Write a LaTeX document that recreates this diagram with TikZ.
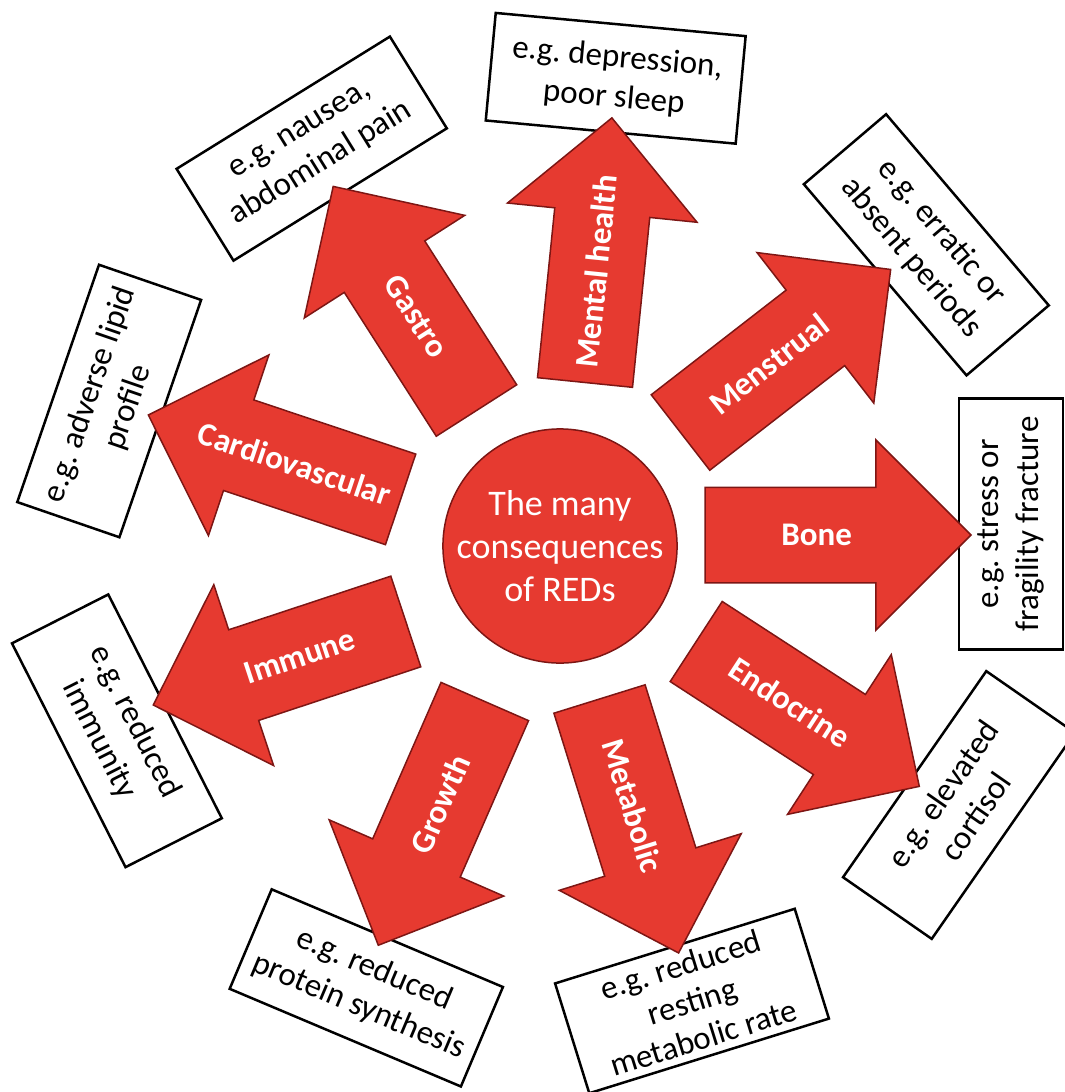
\documentclass[tikz,border=0pt]{standalone}
\usepackage{fontspec}
\setmainfont{Carlito}
\usepackage{xcolor}
\definecolor{redfill}{RGB}{230,58,48}
\definecolor{redline}{RGB}{125,22,20}
\usetikzlibrary{positioning, calc, shapes, shapes.arrows}
\frenchspacing
\tikzstyle{RedArrow} = [
single arrow,
draw=redline,
fill=redfill,
line width=1.5pt,
minimum height=266pt,
minimum width=189pt,
single arrow head extend=47.5pt,
single arrow tip angle=90,
inner xsep=0pt,
inner ysep=47pt,
outer sep=0pt,
anchor=tail]
\tikzstyle{ArrowText} = [
text=white,
inner sep=0pt,
font=\fontsize{33}{40}\selectfont\bfseries]
\tikzstyle{Box} = [
draw=black,
fill=white,
line width=2.5pt,
minimum width=251pt,
minimum height=108pt,
inner sep=0pt,
align=center,
font=\fontsize{33}{40}\selectfont]

\begin{document}
\begin{tikzpicture}[x=1pt, y=-1pt]
    \useasboundingbox (0,0) rectangle (1065,1092);
    \clip (0,0) rectangle (1065,1092);

    \node[Box, rotate=-5.3] (b1) at (615.7,78.3) {e.g. depression,\\poor sleep};
    \node[Box, rotate=-49.6] (b2) at (926.3,244.8) {e.g. erratic or\\absent periods};
    \node[Box, rotate=90, minimum height=104pt] (b3) at (1011,524) {e.g. stress or\\fragility fracture};
    \node[Box, rotate=55.2] (b4) at (959,805) {e.g. elevated\\cortisol};
    \node[Box, rotate=17.3, minimum height=115pt, font=\fontsize{33}{38}\selectfont] (b5) at (692,1001) {e.g. reduced\\resting\\metabolic rate};
    \node[Box, rotate=-22.9] (b6) at (366.3,987.9) {e.g. reduced\\protein synthesis};
    \node[Box, rotate=-63.1] (b7) at (116.9,730.8) {e.g. reduced\\immunity};
    \node[Box, rotate=71] (b8) at (109.2,401) {e.g. adverse lipid\\profile};
    \node[Box, rotate=31.8] (b9) at (311.7,148.6) {e.g. nausea,\\abdominal pain};

    \node[RedArrow, rotate=84.2] (a1) at (585,382.5) {};
    \node[RedArrow, rotate=37.8] (a2) at (680.5,432.5) {};
    \node[RedArrow, rotate=0] (a3) at (705,535) {};
    \node[RedArrow, rotate=-33] (a4) at (696.2,641.5) {};
    \node[RedArrow, rotate=-72.7] (a5) at (599.5,699) {};
    \node[RedArrow, rotate=246.4] (a6) at (484.8,701.5) {};
    \node[RedArrow, rotate=198.3] (a7) at (405.8,621.5) {};
    \node[RedArrow, rotate=161.5] (a8) at (400.6,499.4) {};
    \node[RedArrow, rotate=122.6] (a9) at (476.5,410.5) {};

    \node[ArrowText, rotate=84.2] (t1) at ($(a1.tail)!0.42!(a1.tip)$) {Mental health};
    \node[ArrowText, rotate=37.8] (t2) at ($(a2.tail)!0.42!(a2.tip)$) {Menstrual};
    \node[ArrowText] (t3) at ($(a3.tail)!0.42!(a3.tip)$) {Bone};
    \node[ArrowText, rotate=-33] (t4) at ($(a4.tail)!0.42!(a4.tip)$) {Endocrine};
    \node[ArrowText, rotate=-72.7] (t5) at ($(a5.tail)!0.42!(a5.tip)$) {Metabolic};
    \node[ArrowText, rotate=66.4] (t6) at ($(a6.tail)!0.42!(a6.tip)$) {Growth};
    \node[ArrowText, rotate=18.3] (t7) at ($(a7.tail)!0.42!(a7.tip)$) {Immune};
    \node[ArrowText, rotate=-18.5] (t8) at ($(a8.tail)!0.42!(a8.tip)$) {Cardiovascular};
    \node[ArrowText, rotate=-57.4] (t9) at ($(a9.tail)!0.42!(a9.tip)$) {Gastro};

    \node[circle, draw=redline, fill=redfill, line width=1.5pt, minimum size=234pt,
          inner sep=0pt, text=white, align=center,
          font=\fontsize{36}{43}\selectfont] (core) at (560,546) {The many\\consequences\\of REDs};
\end{tikzpicture}
\end{document}
